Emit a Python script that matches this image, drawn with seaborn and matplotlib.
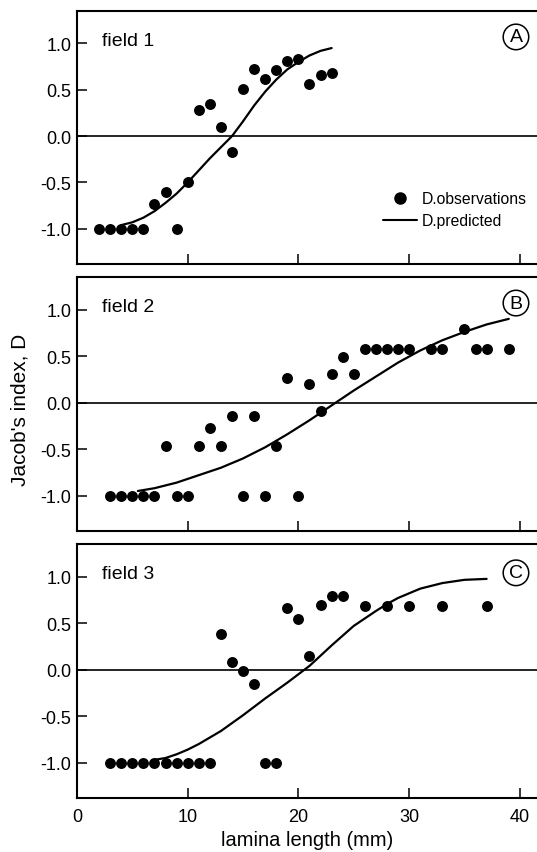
import matplotlib
matplotlib.use("Agg")
import matplotlib.pyplot as plt
from matplotlib.lines import Line2D
import numpy as np
import pandas as pd
import seaborn as sns

sns.set_style("ticks")
plt.rcParams["font.family"] = ["Liberation Sans", "DejaVu Sans"]
plt.rcParams["axes.unicode_minus"] = False
for k in ["text.color", "axes.labelcolor", "xtick.color", "ytick.color",
          "axes.edgecolor"]:
    plt.rcParams[k] = "black"

# ---------------- data ----------------
field1_x = list(range(2, 24))
field1_obs = [-1.0, -1.0, -1.0, -1.0, -1.0, -0.73, -0.60, -1.0, -0.49, 0.28, 0.35,
              0.10, -0.17, 0.51, 0.72, 0.62, 0.71, 0.81, 0.83, 0.56, 0.66, 0.68]
field1_pred_x = list(range(4, 24))
field1_pred = [-0.96, -0.93, -0.88, -0.81, -0.72, -0.62, -0.50, -0.37, -0.24, -0.12,
               0.0, 0.16, 0.33, 0.48, 0.61, 0.72, 0.80, 0.87, 0.92, 0.95]

field2_x = [3, 4, 5, 6, 7, 8, 9, 10, 11, 12, 13, 14, 15, 16, 17, 18, 19, 20, 21, 22,
            23, 24, 25, 26, 27, 28, 29, 30, 32, 33, 35, 36, 37, 39]
field2_obs = [-1.0, -1.0, -1.0, -1.0, -1.0, -0.47, -1.0, -1.0, -0.47, -0.27, -0.47,
              -0.14, -1.0, -0.14, -1.0, -0.47, 0.26, -1.0, 0.20, -0.09, 0.31, 0.49,
              0.31, 0.58, 0.58, 0.58, 0.58, 0.58, 0.58, 0.58, 0.79, 0.58, 0.58, 0.58]
field2_pred_x = [5.5, 7, 9, 11, 13, 15, 17, 19, 21, 23, 25, 27, 29, 31, 33, 35, 37, 39]
field2_pred = [-0.95, -0.92, -0.86, -0.78, -0.70, -0.60, -0.48, -0.34, -0.19, -0.03,
               0.13, 0.28, 0.43, 0.56, 0.67, 0.76, 0.84, 0.90]

field3_x = [3, 4, 5, 6, 7, 8, 9, 10, 11, 12, 13, 14, 15, 16, 17, 18, 19, 20, 21, 22,
            23, 24, 26, 28, 30, 33, 37]
field3_obs = [-1.0, -1.0, -1.0, -1.0, -1.0, -1.0, -1.0, -1.0, -1.0, -1.0, 0.38, 0.08,
              -0.01, -0.15, -1.0, -1.0, 0.66, 0.54, 0.15, 0.69, 0.79, 0.79, 0.68, 0.68,
              0.68, 0.68, 0.68]
field3_pred_x = [7, 8, 9, 10, 11, 13, 15, 17, 19, 21, 23, 25, 27, 28, 29, 31, 33, 35, 37]
field3_pred = [-0.97, -0.95, -0.91, -0.86, -0.80, -0.66, -0.49, -0.31, -0.14, 0.04,
               0.26, 0.47, 0.63, 0.705, 0.77, 0.87, 0.93, 0.965, 0.975]

panel_titles = ["field 1", "field 2", "field 3"]
panel_letters = ["A", "B", "C"]
x_ticks = [0, 10, 20, 30, 40]
y_ticks = [-1.0, -0.5, 0.0, 0.5, 1.0]
y_ticklabels = ["-1.0", "-0.5", "0.0", "0.5", "1.0"]
x_label = "lamina length (mm)"
y_label = "Jacob's index, D"
legend_labels = ["D.observations", "D.predicted"]

obs_sets = [(field1_x, field1_obs), (field2_x, field2_obs), (field3_x, field3_obs)]
pred_sets = [(field1_pred_x, field1_pred), (field2_pred_x, field2_pred),
             (field3_pred_x, field3_pred)]

# ---------------- figure ----------------
W, H = 537, 853
fig = plt.figure(figsize=(W / 100, H / 100), dpi=100)
left = 77 / W
width = 460 / W
tops = [12, 278, 545]
bots = [265, 532, 799]
letter_y = [1.07, 1.07, 1.04]

axes = []
for i in range(3):
    ax = fig.add_axes([left, 1 - bots[i] / H, width, (bots[i] - tops[i]) / H])
    axes.append(ax)
    ox, oy = obs_sets[i]
    px, py = pred_sets[i]
    dobs = pd.DataFrame({"x": ox, "y": oy})
    dpred = pd.DataFrame({"x": px, "y": py})
    ax.axhline(0, color="black", lw=1.2, zorder=1)
    sns.lineplot(data=dpred, x="x", y="y", ax=ax, color="black", lw=1.6,
                 sort=False, estimator=None, zorder=2)
    sns.scatterplot(data=dobs, x="x", y="y", ax=ax, color="black", s=62,
                    linewidth=0, zorder=3)
    ax.set_xlim(0, 41.55)
    ax.set_ylim(-1.38, 1.35)
    ax.set_xticks(x_ticks)
    ax.set_yticks(y_ticks)
    ax.set_yticklabels(y_ticklabels)
    ax.tick_params(direction="in", length=7, width=1.1, labelsize=13, pad=4,
                   colors="black")
    ax.tick_params(axis="x", pad=7)
    for s in ["left", "bottom", "top"]:
        ax.spines[s].set_linewidth(1.5)
        ax.spines[s].set_color("black")
    ax.spines["right"].set_visible(False)
    ax.set_xlabel("")
    ax.set_ylabel("")
    if i < 2:
        ax.set_xticklabels([])
    ax.text(2.23, 1.03, panel_titles[i], fontsize=14, ha="left", va="center")
    ax.text(39.65, letter_y[i], panel_letters[i], fontsize=14, ha="center",
            va="center", zorder=5,
            bbox=dict(boxstyle="circle,pad=0.22", fc="white", ec="black", lw=1.1))

axes[2].set_xlabel(x_label, fontsize=14.5, labelpad=4)
fig.text(20 / W, 1 - 410 / H, y_label, rotation=90, ha="center", va="center",
         fontsize=15)

handles = [Line2D([], [], marker="o", color="black", ls="none", markersize=8),
           Line2D([], [], color="black", lw=1.5)]
axes[0].legend(handles, legend_labels, loc="center left",
               bbox_to_anchor=(0.665, 0.215), frameon=False, fontsize=11.3,
               handlelength=2.2, handletextpad=0.3, labelspacing=0.45,
               borderpad=0, borderaxespad=0)

fig.savefig("out.png", dpi=100)
